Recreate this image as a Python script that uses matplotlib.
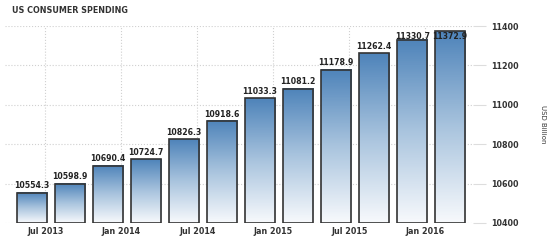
import numpy as np
import matplotlib
matplotlib.use("Agg")
import matplotlib.pyplot as plt
from matplotlib.colors import LinearSegmentedColormap

# quarterly US consumer spending, USD billion
quarters = ["Q2 2013", "Q3 2013", "Q4 2013", "Q1 2014", "Q2 2014", "Q3 2014",
            "Q4 2014", "Q1 2015", "Q2 2015", "Q3 2015", "Q4 2015", "Q1 2016"]
values = [10554.3, 10598.9, 10690.4, 10724.7, 10826.3, 10918.6,
          11033.3, 11081.2, 11178.9, 11262.4, 11330.7, 11372.9]
tick_labels = ["Jul 2013", "Jan 2014", "Jul 2014", "Jan 2015", "Jul 2015", "Jan 2016"]
y_ticks = [10400, 10600, 10800, 11000, 11200, 11400]

fig = plt.figure(figsize=(5.5, 2.46), dpi=100)
ax = fig.add_axes([0.009, 0.0935, 0.851, 0.8005])

cmap = LinearSegmentedColormap.from_list("bar", ["#f7f9fc", "#a9c4de", "#4f84ba"])
grad = np.linspace(0, 1, 100).reshape(-1, 1)
ymin, ymax = 10400, 11400
width = 0.79

x = np.arange(len(values))
for xi, v in zip(x, values):
    ax.imshow(grad, extent=[xi - width / 2, xi + width / 2, ymin, v], origin="lower",
              aspect="auto", cmap=cmap, zorder=2)
ax.bar(x, np.array(values) - ymin, bottom=ymin, width=width, facecolor="none",
       edgecolor="#333333", linewidth=1.2, zorder=3)

for xi, v in zip(x, values):
    ty = min(v + 12, ymax - 78)
    ax.text(xi, ty, f"{v:.1f}", ha="center", va="bottom", fontsize=5.6,
            color="#222222", fontweight="semibold", zorder=4)

ax.set_xlim(-0.71, 11.6)
ax.set_ylim(ymin, ymax)

tick_pos = 0.35 + 2 * np.arange(len(tick_labels))
ax.set_xticks(tick_pos)
ax.set_xticklabels(tick_labels, fontsize=5.8, color="#333333", fontweight="semibold")
ax.tick_params(axis="x", length=0, pad=3)

ax.yaxis.tick_right()
ax.set_yticks(y_ticks)
ax.set_yticklabels([str(t) for t in y_ticks], fontsize=5.8, color="#333333", fontweight="semibold")
ax.tick_params(axis="y", length=9, color="#dddddd", pad=4)
ax.yaxis.set_label_position("right")
ax.set_ylabel("USD Billion", fontsize=5, color="#333333", rotation=270, labelpad=20)

ax.grid(True, linestyle=":", color="#d0d0d0", linewidth=0.8, zorder=0)
ax.set_axisbelow(True)
for s in ax.spines.values():
    s.set_visible(False)

fig.text(0.022, 0.975, "US CONSUMER SPENDING", fontsize=5.8, color="#333333",
         fontweight="bold", ha="left", va="top")

fig.savefig("out.png", dpi=100)
